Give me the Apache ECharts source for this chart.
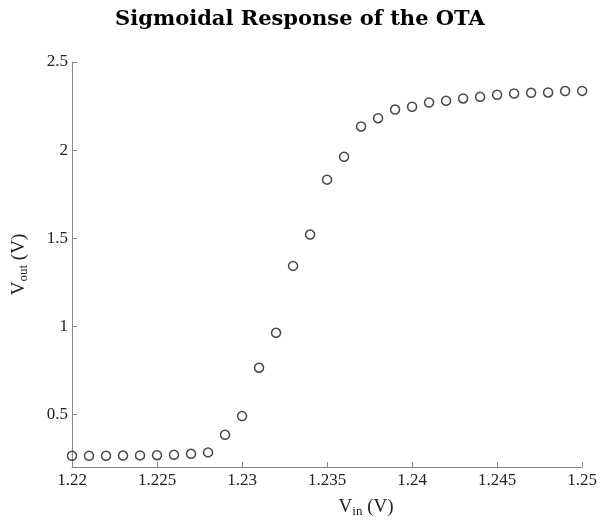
<!DOCTYPE html>
<html>
<head>
<meta charset="utf-8">
<script src="https://cdn.jsdelivr.net/npm/echarts@6/dist/echarts.min.js"></script>
<style>html,body{margin:0;padding:0;background:#fff}#c{width:600px;height:527px}</style>
</head>
<body>
<div id="c"></div>
<script>
const titleText = 'Sigmoidal Response of the OTA';
const vin = [1.220,1.221,1.222,1.223,1.224,1.225,1.226,1.227,1.228,1.229,1.230,1.231,1.232,1.233,1.234,1.235,1.236,1.237,1.238,1.239,1.240,1.241,1.242,1.243,1.244,1.245,1.246,1.247,1.248,1.249,1.250];
const vout = [0.264,0.264,0.264,0.265,0.266,0.267,0.269,0.275,0.283,0.383,0.489,0.764,0.962,1.342,1.520,1.832,1.962,2.134,2.181,2.230,2.246,2.270,2.280,2.293,2.302,2.314,2.321,2.325,2.327,2.335,2.336];
const yTicks = [0.5, 1, 1.5, 2, 2.5];

const chart = echarts.init(document.getElementById('c'), null, {renderer:'canvas'});
const serif = '"Liberation Serif", "Times New Roman", serif';
const axisCol = '#8a8a8a';
chart.setOption({
  animation: false,
  backgroundColor: '#fff',
  title: {
    text: titleText, left: 'center', top: 4,
    textStyle: {fontFamily: '"DejaVu Serif", serif', fontWeight: 'bold', fontSize: 21, color: '#000'}
  },
  grid: {left: 72, right: 16, top: 62, bottom: 60},
  xAxis: {
    type: 'value', min: 1.22, max: 1.25, interval: 0.005,
    name: '{v|V}{s|in}{v| (V)}', nameLocation: 'middle', nameGap: 30,
    nameTextStyle: {padding: [0,0,0,78], rich: {
      v: {fontFamily: serif, fontSize: 19, color: '#222'},
      s: {fontFamily: serif, fontSize: 13, color: '#222', padding: [8,0,0,0]}
    }},
    axisLine: {onZero: false, lineStyle: {color: axisCol, width: 1}},
    axisTick: {inside: true, length: 5, lineStyle: {color: axisCol}},
    splitLine: {show: false},
    axisLabel: {fontFamily: serif, fontSize: 17, color: '#222', margin: 5,
      formatter: v => String(parseFloat(v.toFixed(4)))}
  },
  yAxis: {
    type: 'value', min: 0.2, max: 2.5,
    name: '{v|V}{s|out}{v| (V)}', nameLocation: 'middle', nameGap: 42, nameRotate: 90,
    nameTextStyle: {rich: {
      v: {fontFamily: serif, fontSize: 19, color: '#222'},
      s: {fontFamily: serif, fontSize: 13, color: '#222', padding: [8,0,0,0]}
    }},
    axisLine: {onZero: false, lineStyle: {color: axisCol, width: 1}},
    axisTick: {inside: true, length: 5, customValues: yTicks, lineStyle: {color: axisCol}},
    splitLine: {show: false},
    axisLabel: {fontFamily: serif, fontSize: 17, color: '#222', margin: 4, customValues: yTicks,
      formatter: v => String(parseFloat(v.toFixed(4)))}
  },
  series: [{
    type: 'scatter',
    data: vin.map((x, i) => [x, vout[i]]),
    symbol: 'circle', symbolSize: 9,
    itemStyle: {color: 'rgba(0,0,0,0)', borderColor: '#1a1a1a', borderWidth: 1.5}
  }]
});
</script>
</body>
</html>
